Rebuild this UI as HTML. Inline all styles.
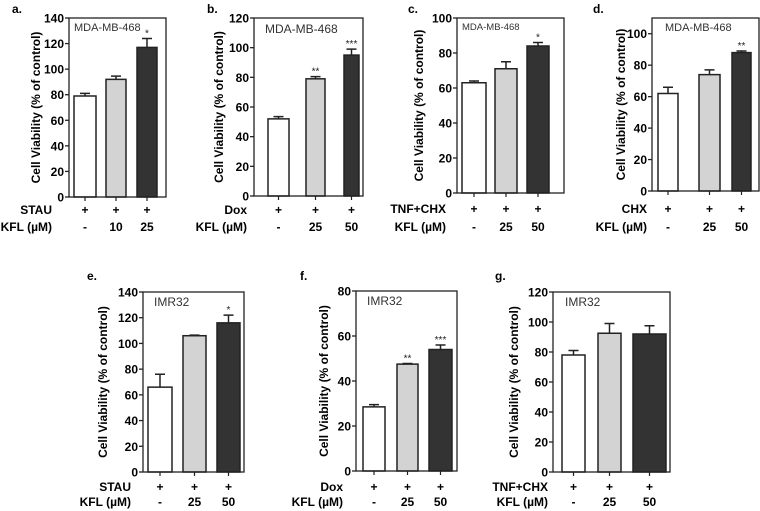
<!DOCTYPE html>
<html><head><meta charset="utf-8"><style>
html,body{margin:0;padding:0;background:#fff;}
svg{display:block;font-family:"Liberation Sans",sans-serif;}
</style></head><body>
<svg id="c" width="760" height="511" viewBox="0 0 760 511"></svg>
<script>
const panelIds=["a","b","c","d","e","f","g"];
const cellLines=["MDA-MB-468","MDA-MB-468","MDA-MB-468","MDA-MB-468","IMR32","IMR32","IMR32"];
const treatments=["STAU","Dox","TNF+CHX","CHX","STAU","Dox","TNF+CHX"];
const kflLabels=[["-","10","25"],["-","25","50"],["-","25","50"],["-","25","50"],["-","25","50"],["-","25","50"],["-","25","50"]];
const yMax=[140,120,100,110,140,80,120];
const yTicks=[[0,20,40,60,80,100,120,140],[0,20,40,60,80,100,120],[0,20,40,60,80,100],[0,20,40,60,80,100],[0,20,40,60,80,100,120,140],[0,20,40,60,80],[0,20,40,60,80,100,120]];
const means=[[79,92,117],[52,79,95],[63,71,84],[62,74,88],[66,106,116],[28.5,47.5,54],[78,92.5,92]];
const errs=[[2,2.5,7],[1.5,1.5,4],[1,4,2],[4,3,1],[10,0.5,6],[1,0.3,2],[3,6.5,5.5]];
const stars=[["","","*"],["","**","***"],["","","*"],["","","**"],["","","*"],["","**","***"],["","",""]];
// layout (not data)
const L=[
 {l:69,r:166,t:18,b:197,bars:[[74,96],[106,126],[137,157]],lx:12,ly:13,tx:40,cr:52,r1:210,r2:227,mx:74,my:31,ms:11},
 {l:254,r:363,t:18,b:196,bars:[[268,289],[306,325],[344,359]],lx:207,ly:13,tx:223,cr:247,r1:210,r2:227,mx:265,my:33,ms:12},
 {l:457,r:564,t:18,b:193,bars:[[462,486],[495,517],[527,549]],lx:408,ly:13,tx:423,cr:446,r1:209,r2:227,mx:462,my:30,ms:9.5},
 {l:652,r:759,t:18,b:191,bars:[[658,678],[699,720],[732,751]],lx:593,ly:13,tx:625,cr:647,r1:209,r2:227,mx:665,my:31,ms:11},
 {l:143,r:244,t:292,b:472,bars:[[148,172],[183,206],[217,240]],lx:87,ly:280,tx:107,cr:131,r1:487,r2:502,mx:154,my:306,ms:12},
 {l:356,r:457,t:291,b:471,bars:[[363,385],[397,418],[429,452]],lx:300,ly:280,tx:328,cr:343,r1:487,r2:502,mx:367,my:305,ms:12},
 {l:553,r:670,t:292,b:472,bars:[[562,585],[598,621],[633,666]],lx:495,ly:280,tx:518,cr:548,r1:487,r2:502,mx:565,my:306,ms:12}
];
const fills=["#ffffff","#d3d3d3","#333333"];
const svg=document.getElementById('c');
const NS="http://www.w3.org/2000/svg";
function mk(tag,at,parent,txt){const e=document.createElementNS(NS,tag);for(const k in at)e.setAttribute(k,at[k]);if(txt!==undefined)e.textContent=txt;(parent||svg).appendChild(e);return e;}
panelIds.forEach((id,p)=>{
 const o=L[p];
 const g=mk('g',{});
 
 
 const y=v=>o.b-(v/yMax[p])*(o.b-o.t);
 const pl=mk('text',{x:o.lx,y:o.ly,'font-size':12,'font-weight':'bold'},g,id+'.');
 
 
 means[p].forEach((m,i)=>{
  const [x0,x1]=o.bars[i];const cx=(x0+x1)/2;
  const yt=y(m+errs[p][i]);
  const eb=mk('path',{d:`M${cx} ${y(m)}V${yt}M${cx-5} ${yt}H${cx+5}`,stroke:'#222','stroke-width':1.5,fill:'none'},g);
  
  
  const r=mk('rect',{x:x0,y:y(m),width:x1-x0,height:o.b-y(m),fill:fills[i],stroke:'#222','stroke-width':1.5},g);
  
  
  if(stars[p][i]){const s=mk('text',{x:cx,y:yt-2,'font-size':10,'text-anchor':'middle',fill:'#222'},g,stars[p][i]);
   
   }
  const pm=mk('text',{x:cx,y:o.r1+4,'font-size':12,'font-weight':'bold','text-anchor':'middle'},g,'+');
  
  
  const kl=mk('text',{x:cx,y:o.r2+4,'font-size':12,'font-weight':'bold','text-anchor':'middle'},g,kflLabels[p][i]);
  
  
  mk('line',{x1:cx,x2:cx,y1:o.b,y2:o.b+4,stroke:'#222','stroke-width':1.2},g);
 });
 const box=mk('rect',{x:o.l,y:o.t,width:o.r-o.l,height:o.b-o.t,fill:'none',stroke:'#222','stroke-width':1.3},g);
 
 
 yTicks[p].forEach(v=>{
  mk('line',{x1:o.l-4,x2:o.l,y1:y(v),y2:y(v),stroke:'#222','stroke-width':1.3},g);
  const t=mk('text',{x:o.l-5,y:y(v)+4.5,'font-size':12,'font-weight':'bold','text-anchor':'end'},g,v);
  
  
 });
 const cy=(o.t+o.b)/2;
 const yt=mk('text',{x:o.tx,y:cy,'font-size':12,'font-weight':'bold','text-anchor':'middle',transform:`rotate(-90 ${o.tx} ${cy})`},g,'Cell Viability (% of control)');
 
 
 const ml=mk('text',{x:o.mx,y:o.my,'font-size':o.ms,fill:'#333'},g,cellLines[p]);
 
 
 const tr=mk('text',{x:o.cr,y:o.r1+4,'font-size':12,'font-weight':'bold','text-anchor':'end'},g,treatments[p]);
 
 
 const kf=mk('text',{x:o.cr,y:o.r2+4,'font-size':12,'font-weight':'bold','text-anchor':'end'},g,'KFL (µM)');
 
 
});
</script>
</body></html>
